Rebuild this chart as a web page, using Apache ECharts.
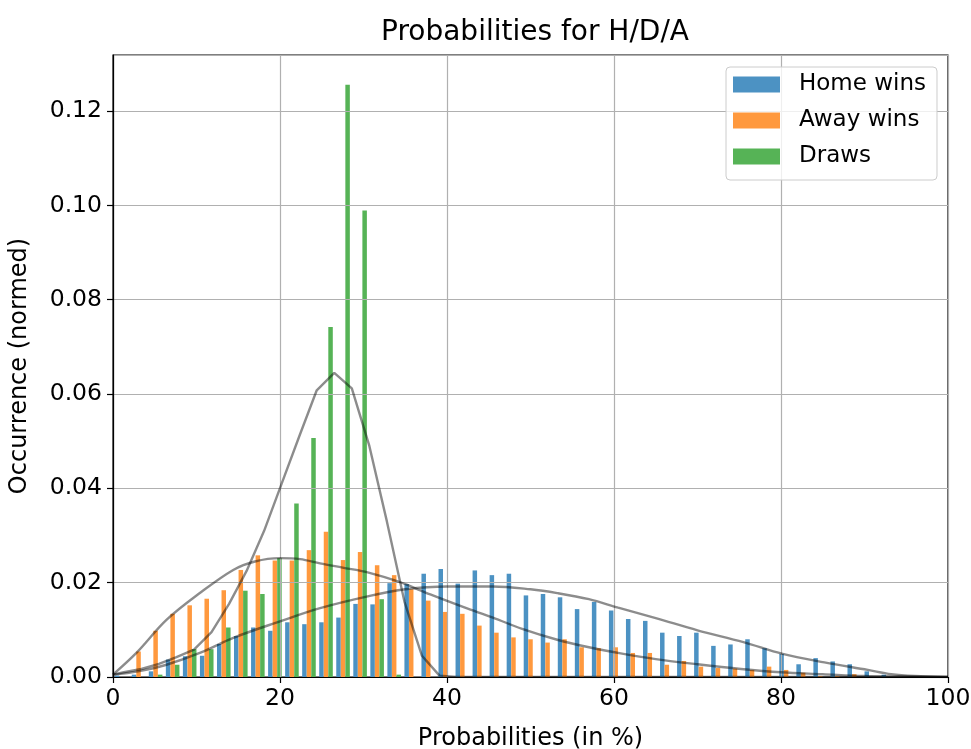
<!DOCTYPE html>
<html>
<head>
<meta charset="utf-8">
<title>Probabilities for H/D/A</title>
<script src="https://cdn.jsdelivr.net/npm/echarts@6/dist/echarts.min.js"></script>
<style>
  html, body { margin: 0; padding: 0; background: #fff; }
  #chart { width: 971px; height: 749px; }
</style>
</head>
<body>
<div id="chart"></div>
<script>
// histogram: 49 bins from 0 to 100
var binCount = 49;
var xMin = 0, xMax = 100;
var xTicks = [0, 20, 40, 60, 80, 100];
var yTicks = [0, 0.02, 0.04, 0.06, 0.08, 0.10, 0.12];

var seriesNames = ['Home wins', 'Away wins', 'Draws'];

var homeWins = [0.0003, 0.0005, 0.0012, 0.0037, 0.0044, 0.0045, 0.0070, 0.0087, 0.0105, 0.0098,
  0.0116, 0.0112, 0.0116, 0.0126, 0.0155, 0.0154, 0.0199, 0.0197, 0.0219, 0.0229,
  0.0198, 0.0226, 0.0216, 0.0219, 0.0173, 0.0176, 0.0169, 0.0144, 0.0159, 0.0141,
  0.0123, 0.0119, 0.0094, 0.0087, 0.0094, 0.0066, 0.0069, 0.0080, 0.0061, 0.0049,
  0.0027, 0.0040, 0.0033, 0.0027, 0.0012, 0.0005, 0, 0, 0];

var awayWins = [0, 0.0054, 0.0098, 0.0134, 0.0152, 0.0166, 0.0184, 0.0227, 0.0258, 0.0247,
  0.0247, 0.0269, 0.0308, 0.0248, 0.0265, 0.0237, 0.0216, 0.0186, 0.0162, 0.0138,
  0.0134, 0.0109, 0.0094, 0.0084, 0.0080, 0.0073, 0.0080, 0.0063, 0.0061, 0.0063,
  0.0051, 0.0051, 0.0026, 0.0034, 0.0022, 0.0019, 0.0018, 0.0015, 0.0022, 0.0015,
  0.0009, 0.0002, 0.0002, 0.0006, 0, 0, 0, 0, 0];

var draws = [0, 0, 0.0005, 0.0026, 0.0059, 0.0059, 0.0105, 0.0183, 0.0176, 0.0252,
  0.0368, 0.0507, 0.0742, 0.1256, 0.0989, 0.0165, 0.0005, 0, 0, 0,
  0, 0, 0, 0, 0, 0, 0, 0, 0, 0,
  0, 0, 0, 0, 0, 0, 0, 0, 0, 0,
  0, 0, 0, 0, 0, 0, 0, 0, 0];

// density curves (gray lines)
var homeCurveX = [0, 3, 6.4, 10.4, 14.4, 20, 24.8, 30.5, 35, 40, 45.5, 50, 53.2, 57, 60.5, 65, 70, 75.5, 80.2, 85.2, 90.4, 93.2, 96, 100];
var homeCurveY = [0.0005, 0.0012, 0.0026, 0.0051, 0.0083, 0.0118, 0.0146, 0.0171, 0.0186, 0.0192, 0.0192, 0.0186, 0.0178, 0.0165, 0.0147, 0.0125, 0.0099, 0.0074, 0.0049, 0.0031, 0.0015, 0.0006, 0.0002, 0];

var awayCurveX = [0, 2.8, 6.4, 10.4, 14.4, 17, 20, 22.4, 24.8, 27.5, 30.5, 34.2, 38, 42, 45.5, 49, 53.2, 57, 60.8, 65, 70, 75.2, 80, 85, 90, 95, 100];
var awayCurveY = [0.0005, 0.0051, 0.0121, 0.0178, 0.0227, 0.0245, 0.0252, 0.0250, 0.0241, 0.0232, 0.0222, 0.0202, 0.0175, 0.0148, 0.0126, 0.0102, 0.0079, 0.0063, 0.0050, 0.0038, 0.0027, 0.0017, 0.0010, 0.0006, 0.0002, 0.0001, 0];

var drawCurveX = [0, 1.3, 3.4, 5.5, 7.6, 9.7, 11.8, 13.9, 16.0, 18.1, 20.2, 22.3, 24.4, 26.5, 28.6, 30.7, 32.8, 34.9, 37.0, 39.1, 41.2, 60, 80, 100];
var drawCurveY = [0.0005, 0.0010, 0.0017, 0.0028, 0.0042, 0.0058, 0.0095, 0.0155, 0.0225, 0.0310, 0.0410, 0.0510, 0.0608, 0.0645, 0.0612, 0.0490, 0.0330, 0.0160, 0.0045, 0.0003, 0, 0, 0, 0];

var colors = ['#4c92c3', '#ff993e', '#56b356'];
var FONT = 'DejaVu Sans';

var binW = (xMax - xMin) / binCount;
// matplotlib side-by-side layout: 80% of bin, split in 3
function barSeries(values, idx) {
  var data = values.map(function (v, k) {
    var x = xMin + k * binW + binW * (0.1 + 0.8 / 3 * (idx + 0.5));
    return [x, v];
  });
  return {
    name: seriesNames[idx],
    type: 'bar',
    data: data,
    barWidth: 4.5,
    barGap: '-100%',
    itemStyle: { color: colors[idx] },
    silent: true,
    z: 2
  };
}

function curveSeries(xs, ys, smooth) {
  return {
    type: 'line',
    data: xs.map(function (x, i) { return [x, ys[i]]; }),
    showSymbol: false,
    smooth: smooth,
    silent: true,
    lineStyle: { color: 'rgba(0,0,0,0.45)', width: 2.4 },
    z: 5
  };
}

var chart = echarts.init(document.getElementById('chart'), null, { renderer: 'canvas' });

var option = {
  animation: false,
  backgroundColor: '#fff',
  title: {
    text: 'Probabilities for H/D/A',
    left: 376,
    top: 14,
    textStyle: { fontFamily: FONT, fontSize: 28, fontWeight: 'normal', color: '#000' }
  },
  legend: {
    data: seriesNames,
    orient: 'vertical',
    left: 726,
    top: 67,
    padding: [6, 11, 12, 7],
    itemWidth: 47,
    itemHeight: 16,
    itemGap: 13,
    icon: 'rect',
    backgroundColor: 'rgba(255,255,255,0.8)',
    borderColor: '#cccccc',
    borderWidth: 1,
    borderRadius: 4,
    textStyle: { fontFamily: FONT, fontSize: 23, color: '#000', padding: [0, 0, 0, 14] }
  },
  grid: {
    left: 113, right: 23, top: 55, bottom: 72,
    outerBoundsMode: 'none',
    containLabel: false,
    show: true,
    borderColor: '#000',
    borderWidth: 1.2
  },
  xAxis: {
    type: 'value',
    min: xMin,
    max: xMax,
    interval: 20,
    z: 3,
    name: 'Probabilities (in %)',
    nameLocation: 'middle',
    nameGap: 50,
    nameTextStyle: { fontFamily: FONT, fontSize: 24, color: '#000' },
    axisLine: { show: true, lineStyle: { color: '#000', width: 1.2 } },
    axisTick: { show: true, inside: false, length: 6, lineStyle: { color: '#000', width: 1.2 } },
    axisLabel: {
      fontFamily: FONT, fontSize: 23.5, color: '#000', margin: 10,
      formatter: function (v) { return xTicks.indexOf(v) >= 0 ? String(v) : ''; }
    },
    splitLine: { show: true, lineStyle: { color: '#b0b0b0', width: 1.2 } }
  },
  yAxis: {
    type: 'value',
    min: 0,
    max: 0.1319,
    interval: 0.02,
    z: 3,
    name: 'Occurrence (normed)',
    nameLocation: 'middle',
    nameGap: 81,
    nameTextStyle: { fontFamily: FONT, fontSize: 24, color: '#000' },
    axisLine: { show: true, lineStyle: { color: '#000', width: 1.2 } },
    axisTick: { show: true, inside: false, length: 6, lineStyle: { color: '#000', width: 1.2 } },
    axisLabel: {
      fontFamily: FONT, fontSize: 23.5, color: '#000', margin: 11,
      showMaxLabel: false,
      formatter: function (v) {
        for (var i = 0; i < yTicks.length; i++) {
          if (Math.abs(yTicks[i] - v) < 1e-9) return yTicks[i].toFixed(2);
        }
        return '';
      }
    },
    splitLine: { show: true, lineStyle: { color: '#b0b0b0', width: 1.2 } }
  },
  series: [
    barSeries(homeWins, 0),
    barSeries(awayWins, 1),
    barSeries(draws, 2),
    curveSeries(homeCurveX, homeCurveY, 0.35),
    curveSeries(awayCurveX, awayCurveY, 0.35),
    curveSeries(drawCurveX, drawCurveY, false)
  ]
};

chart.setOption(option);
</script>
</body>
</html>
